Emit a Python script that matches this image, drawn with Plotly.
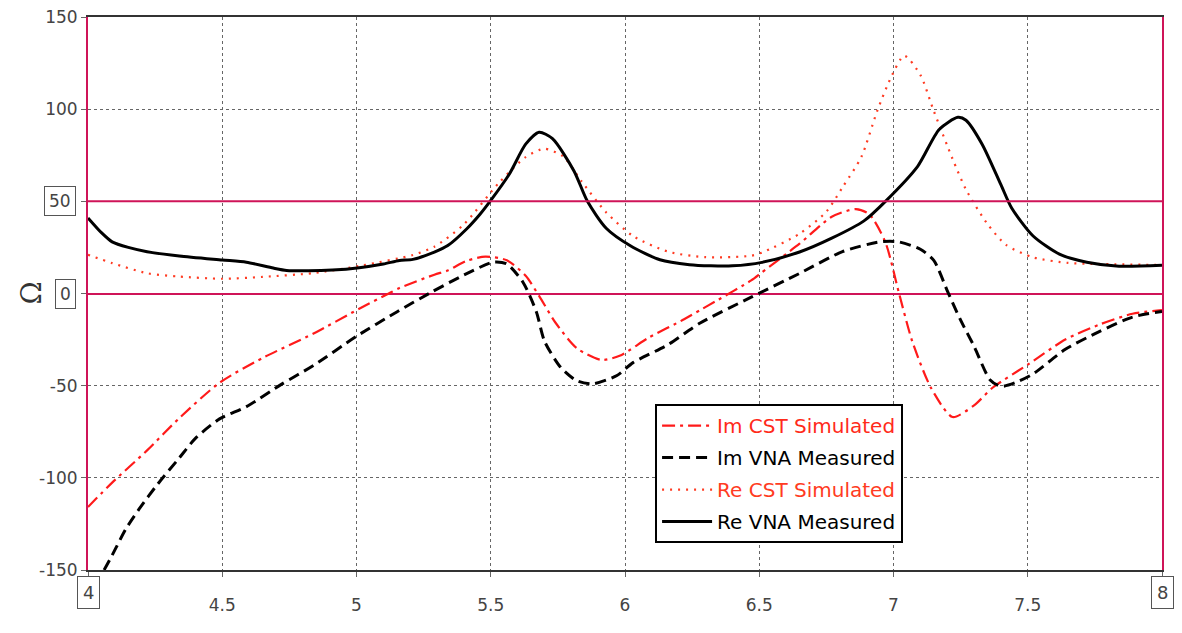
import plotly.graph_objects as go

# ---- data (frequency in GHz, impedance in Ohm) ----
f_re_vna = [4.00, 4.05, 4.09, 4.15, 4.22, 4.34, 4.50, 4.59, 4.69, 4.74, 4.82, 4.91, 5.01, 5.10, 5.16,
            5.21, 5.29, 5.34, 5.41, 5.46, 5.50, 5.57, 5.63, 5.68, 5.73, 5.81, 5.86, 5.93, 6.02, 6.13,
            6.24, 6.32, 6.40, 6.51, 6.65, 6.77, 6.89, 6.97, 7.09, 7.17, 7.24, 7.27, 7.33, 7.40, 7.44,
            7.52, 7.62, 7.72, 7.84, 8.00]
re_vna = [41, 33, 28, 25, 22.7, 20.4, 18.2, 17, 13.8, 12.5, 12.3, 12.7, 14, 16, 17.9,
          18.5, 22.5, 26, 35, 43, 50.5, 65, 81, 87.5, 84, 66.5, 50, 35.4, 25.9, 18.3,
          15.6, 15, 15, 16.9, 22.5, 30, 39.4, 50, 69, 89, 95.6, 94, 81, 59, 46.4,
          31.2, 21.2, 17, 14.8, 15.3]

f_re_cst = [4.00, 4.09, 4.22, 4.34, 4.50, 4.65, 4.84, 5.02, 5.21, 5.29, 5.40, 5.53, 5.63, 5.70, 5.77,
            5.84, 5.93, 6.03, 6.16, 6.30, 6.47, 6.51, 6.65, 6.75, 6.81, 6.88, 6.94, 6.99, 7.04, 7.10,
            7.15, 7.22, 7.27, 7.35, 7.42, 7.52, 7.65, 7.77, 8.00]
re_cst = [21, 16.5, 11, 9.2, 8, 9, 11.1, 15.2, 20.9, 25.4, 37.5, 60, 74, 78.5, 74.3,
          60.5, 44, 31.2, 22.7, 19.7, 20.5, 22.2, 32.4, 44.4, 57.6, 74, 99.3, 117, 129, 118.6,
          99, 73, 56.4, 37.7, 26.3, 19.6, 16.6, 16, 15.5]

f_im_cst = [4.00, 4.09, 4.22, 4.34, 4.49, 4.65, 4.84, 5.01, 5.12, 5.16, 5.29, 5.34, 5.41, 5.48, 5.56,
            5.63, 5.68, 5.74, 5.82, 5.91, 5.98, 6.09, 6.22, 6.28, 6.34, 6.47, 6.51, 6.65, 6.77, 6.86,
            6.91, 6.97, 7.02, 7.07, 7.14, 7.22, 7.30, 7.37, 7.50, 7.64, 7.77, 7.89, 8.00]
im_cst = [-115.8, -102.6, -85.1, -67.6, -48.4, -35, -21.7, -8.3, 0, 3, 10.2, 12.5, 17.7, 20, 18,
          9.6, -1.3, -15.6, -29.6, -36, -33.8, -23.8, -14, -9, -4, 7.1, 11.5, 27, 41.6, 45.8,
          43, 27.7, 0.4, -26, -51.3, -67, -60.7, -51, -38.6, -25, -16.7, -11, -9]

f_im_vna = [4.06, 4.09, 4.14, 4.19, 4.26, 4.34, 4.40, 4.49, 4.59, 4.72, 4.84, 5.00, 5.15, 5.28, 5.40,
            5.51, 5.56, 5.62, 5.67, 5.70, 5.76, 5.82, 5.88, 5.97, 6.03, 6.16, 6.28, 6.47, 6.65, 6.81,
            6.95, 7.02, 7.10, 7.15, 7.20, 7.25, 7.30, 7.36, 7.40, 7.46, 7.52, 7.64, 7.77, 7.89, 8.00]
im_vna = [-150, -142, -128, -117, -103.3, -89.2, -78.6, -68, -61.4, -49.3, -39, -23.2, -10, 0.8, 10,
          17, 16, 6.1, -10, -25.8, -40, -47.3, -49, -44.5, -37.5, -27.8, -16, -2, 10.9, 22.7,
          28, 28, 24, 18, 1.6, -14.5, -28.6, -46.9, -50.4, -48, -43.6, -30.3, -20.4, -12.8, -9.7]

x_ticks = [4, 4.5, 5, 5.5, 6, 6.5, 7, 7.5, 8]
x_ticktext = ["", "4.5", "5", "5.5", "6", "6.5", "7", "7.5", ""]
y_ticks = [-150, -100, -50, 0, 50, 100, 150]
y_ticktext = ["-150", "-100", "-50", "", "", "100", "150"]
boxed_y = [50, 0]
boxed_x = [4, 8]
ref_lines = [50]

CRIMSON = "#cf1458"
RED = "#ff1a1a"
ORANGE_RED = "#ff3b22"
FONT = "DejaVu Sans"

fig = go.Figure()
fig.add_trace(go.Scatter(x=f_im_cst, y=im_cst, mode="lines", line_shape="spline",
                         name='<span style="color:#ff2a1a">Im CST Simulated</span>',
                         legendgroup="a",
                         line=dict(color=RED, width=2.2, dash="13px,5px,3px,5px", smoothing=0.7)))
fig.add_trace(go.Scatter(x=f_im_vna, y=im_vna, mode="lines", line_shape="spline",
                         name="Im VNA Measured", legendgroup="b",
                         line=dict(color="black", width=3, dash="11px,6px", smoothing=0.7)))
fig.add_trace(go.Scatter(x=f_re_cst, y=re_cst, mode="lines", line_shape="spline",
                         name='<span style="color:#ff3b22">Re CST Simulated</span>',
                         legendgroup="c",
                         line=dict(color=ORANGE_RED, width=2.2, dash="2px,6px", smoothing=0.7)))
fig.add_trace(go.Scatter(x=f_re_vna, y=re_vna, mode="lines", line_shape="spline",
                         name="Re VNA Measured", legendgroup="d",
                         line=dict(color="black", width=3, smoothing=0.7)))

for v in ref_lines:
    fig.add_hline(y=v, line=dict(color=CRIMSON, width=2), layer="above")

annotations = []
for v in boxed_y:
    annotations.append(dict(xref="paper", x=0, xanchor="right", xshift=-12, y=v, yref="y",
                            text=str(v), showarrow=False,
                            font=dict(family=FONT, size=17, color="#444"),
                            bordercolor="#555", borderwidth=1, borderpad=4, bgcolor="white"))
for v in boxed_x:
    annotations.append(dict(x=v, xref="x", yref="paper", y=0, yanchor="top", yshift=-6,
                            text=str(v), showarrow=False,
                            font=dict(family=FONT, size=18, color="#444"),
                            bordercolor="#555", borderwidth=1, borderpad=5, bgcolor="white"))
annotations.append(dict(xref="paper", x=0, xanchor="center", xshift=-57, yref="paper", y=0.5,
                        text="Ω", textangle=-90, showarrow=False,
                        font=dict(family="DejaVu Serif", size=28, color="#333")))

fig.update_layout(
    width=1182, height=633,
    margin=dict(l=88, r=20, t=17, b=63, autoexpand=False),
    paper_bgcolor="white", plot_bgcolor="white",
    font=dict(family=FONT, size=16, color="#444"),
    showlegend=True,
    legend=dict(x=0.528, y=0.30, xanchor="left", yanchor="top",
                bgcolor="white", bordercolor="black", borderwidth=2,
                font=dict(family=FONT, size=20, color="black"),
                tracegroupgap=3, itemwidth=50),
    annotations=annotations,
    xaxis=dict(range=[4, 8], tickvals=x_ticks, ticktext=x_ticktext, automargin=False,
               showgrid=True, gridcolor="#666", griddash="dot", gridwidth=1,
               showline=True, linecolor="#333", linewidth=1.5, mirror=True,
               ticks="outside", ticklen=5, tickcolor="#666", ticklabelstandoff=14,
               zeroline=False, tickfont=dict(family=FONT, size=17, color="#444")),
    yaxis=dict(range=[-150, 150], tickvals=y_ticks, ticktext=y_ticktext, automargin=False,
               showgrid=True, gridcolor="#666", griddash="dot", gridwidth=1,
               showline=True, linecolor=CRIMSON, linewidth=2, mirror=True,
               zeroline=True, zerolinecolor=CRIMSON, zerolinewidth=2,
               ticks="outside", ticklen=5, tickcolor="#666",
               tickfont=dict(family=FONT, size=17, color="#444")),
)

fig.write_html("out.html")
